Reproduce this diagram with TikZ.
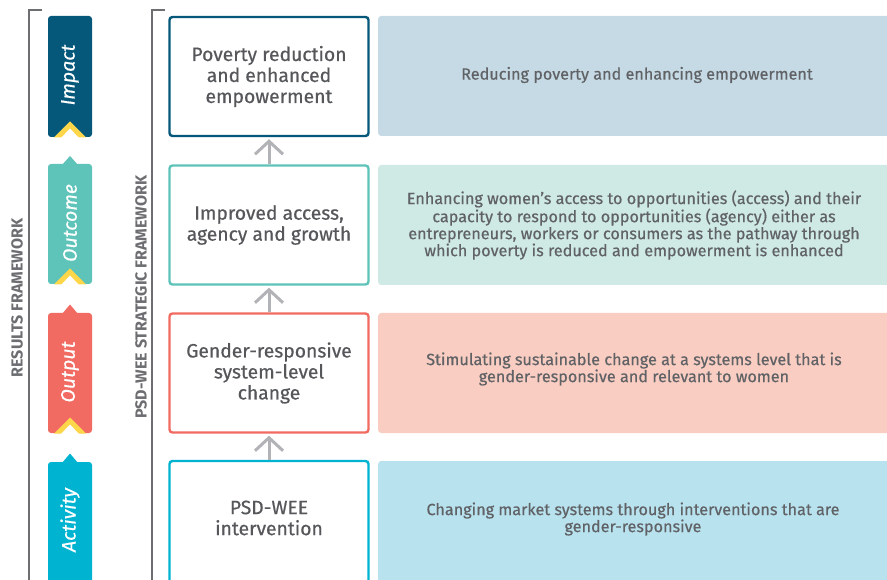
\documentclass[tikz,border=0pt]{standalone}
\usepackage{fontspec}
\setmainfont{Fira Sans}
\newfontfamily\heavyfont{Fira Sans}[FakeBold=0.5]
\usetikzlibrary{arrows.meta}
\definecolor{cImpact}{HTML}{05587A}
\definecolor{cOutcome}{HTML}{5EC3B8}
\definecolor{cOutput}{HTML}{F16B62}
\definecolor{cActivity}{HTML}{00B3D1}
\definecolor{pImpact}{HTML}{C5DAE4}
\definecolor{pOutcome}{HTML}{CFE9E5}
\definecolor{pOutput}{HTML}{F9CDC2}
\definecolor{pActivity}{HTML}{B8E2EE}
\definecolor{cYellow}{HTML}{FDD64A}
\definecolor{cText}{HTML}{55575A}
\definecolor{cPanelText}{HTML}{606266}
\definecolor{cBracket}{HTML}{6D6E71}
\definecolor{cArrow}{HTML}{B1B3B6}
\tikzset{
  mainbox/.style={draw, line width=2.4pt, rounded corners=3pt, fill=white, minimum width=199pt, minimum height=119pt, inner sep=0pt, align=center, text=cText, font=\heavyfont\fontsize{19.3}{21}\selectfont},
  panel/.style={rounded corners=3pt, minimum width=520pt, minimum height=120pt, inner sep=0pt, anchor=west},
  paneltext/.style={align=center, text=cPanelText, font=\heavyfont\fontsize{16.2}{17}\selectfont},
  taglabel/.style={rotate=90, text=white, font=\heavyfont\fontsize{19.5}{21}\selectfont\itshape},
  framelabel/.style={rotate=90, text=cBracket, font=\fontsize{16}{18}\selectfont\bfseries},
  bracket/.style={draw=cBracket, line width=2pt},
  uparrow/.style={draw=cArrow, line width=3pt, -{Straight Barb[length=13pt, width=28pt, line width=3pt]}, shorten >=2pt}
}
\begin{document}
\begin{tikzpicture}[x=1pt, y=-1pt]
\useasboundingbox (0,0) rectangle (887,580);
\clip (0,0) rectangle (887,580);
% brackets
\draw[bracket] (42,10) -- (29,10) -- (29,590);
\draw[bracket] (165,10) -- (152,10) -- (152,590);
\node[framelabel] (rf) at (17,298) {RESULTS FRAMEWORK};
\node[framelabel] (sf) at (141,297) {PSD-WEE STRATEGIC FRAMEWORK};
% tags
\fill[cImpact, rounded corners=3pt] (48,16) rectangle (92,137);
\fill[cYellow] (54,137.5) -- (70,121.5) -- (86,137.5) -- cycle;
\fill[white] (61,138) -- (70,128.5) -- (79,138) -- cycle;
\node[taglabel] (tImpact) at (70,75) {Impact};

\fill[cOutcome, rounded corners=3pt] (48,164) rectangle (92,284);
\fill[cOutcome] (62,165) -- (70,156) -- (78,165) -- cycle;
\fill[cYellow] (54,284.5) -- (70,268.5) -- (86,284.5) -- cycle;
\fill[white] (61,285) -- (70,275.5) -- (79,285) -- cycle;
\node[taglabel] (tOutcome) at (70,223) {Outcome};

\fill[cOutput, rounded corners=3pt] (48,313) rectangle (92,433);
\fill[cOutput] (62,314) -- (70,304.5) -- (78,314) -- cycle;
\fill[cYellow] (54,433.5) -- (70,417.5) -- (86,433.5) -- cycle;
\fill[white] (61,434) -- (70,424.5) -- (79,434) -- cycle;
\node[taglabel] (tOutput) at (70,372) {Output};

\fill[cActivity, rounded corners=3pt] (48,462) rectangle (92,600);
\fill[cActivity] (62,463) -- (70,453.5) -- (78,463) -- cycle;
\node[taglabel] (tActivity) at (70,520) {Activity};
% main boxes
\node[mainbox, draw=cImpact] (b1) at (269,76.5) {Poverty reduction\\and enhanced\\empowerment};
\node[mainbox, draw=cOutcome] (b2) at (269,225) {Improved access,\\agency and growth};
\node[mainbox, draw=cOutput] (b3) at (269,373) {Gender-responsive\\system-level\\change};
\node[mainbox, draw=cActivity, minimum height=140pt] (b4) at (269,531) {};
\node[align=center, text=cText, font=\heavyfont\fontsize{19.3}{21}\selectfont] (b4t) at (269,518) {PSD-WEE\\intervention};
% panels
\node[panel, fill=pImpact] (p1) at (378,76) {};
\node[panel, fill=pOutcome] (p2) at (378,225) {};
\node[panel, fill=pOutput] (p3) at (378,373) {};
\node[panel, fill=pActivity, minimum height=140pt] (p4) at (378,531) {};
\node[paneltext] (t1) at (637,75) {Reducing poverty and enhancing empowerment};
\node[paneltext] (t2) at (634,225) {Enhancing women’s access to opportunities (access) and their\\capacity to respond to opportunities (agency) either as\\entrepreneurs, workers or consumers as the pathway through\\which poverty is reduced and empowerment is enhanced};
\node[paneltext] (t3) at (634,369) {Stimulating sustainable change at a systems level that is\\gender-responsive and relevant to women};
\node[paneltext] (t4) at (633,519) {Changing market systems through interventions that are\\gender-responsive};
% arrows
\draw[uparrow] (b2.north) -- (b1.south);
\draw[uparrow] (b3.north) -- (b2.south);
\draw[uparrow] (b4.north) -- (b3.south);
\end{tikzpicture}
\end{document}
